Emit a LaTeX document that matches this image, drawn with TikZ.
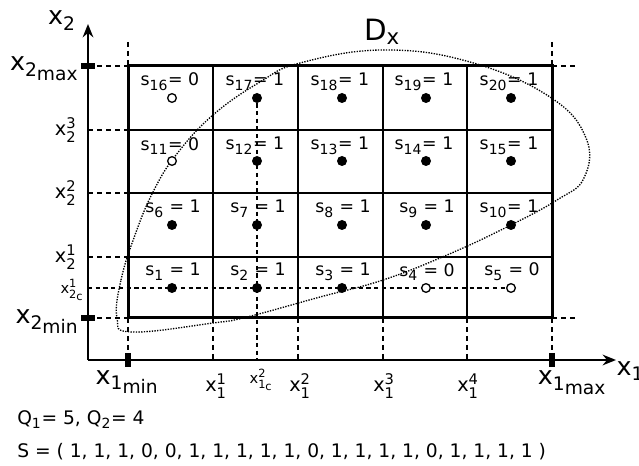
\documentclass[tikz,border=0pt]{standalone}
\usepackage{fontspec}
\setmainfont{DejaVu Sans}
\usepackage{amsmath}
\DeclareMathSizes{19}{19}{14}{10}
\DeclareMathSizes{13}{13}{10.5}{8}
\DeclareMathSizes{14.5}{14.5}{11}{8}
\DeclareMathSizes{11}{11}{8.5}{6}
\DeclareMathSizes{14}{14}{10.5}{8}
\DeclareMathSizes{22}{22}{16}{12}
\usetikzlibrary{arrows.meta}
\begin{document}
\begin{tikzpicture}[x=0.75pt,y=-0.75pt,
  big/.style={font=\fontsize{19}{22}\selectfont},
  mid/.style={font=\fontsize{14.5}{17}\selectfont},
  small/.style={font=\fontsize{11}{13}\selectfont},
  note/.style={font=\fontsize{14}{17}\selectfont,inner sep=0pt},
  cell/.style={font=\fontsize{13}{15}\selectfont,inner sep=0pt},
  on/.style={circle,fill,inner sep=0pt,minimum size=7.5pt},
  off/.style={circle,draw,fill=white,line width=1pt,inner sep=0pt,minimum size=6.5pt},
  guide/.style={line width=1.1pt,dash pattern=on 3.75pt off 3pt},
  cguide/.style={line width=1.1pt,dash pattern=on 3.2pt off 2.6pt},
  tickbar/.style={line width=4.5pt},
  axis/.style={line width=1.5pt,-{Stealth[length=10pt,width=8pt]}}]
\useasboundingbox (0,0) rectangle (639,466);
\draw[line width=1.1pt] (213,66) -- (213,318) (298,66) -- (298,318) (383,66) -- (383,318) (467,66) -- (467,318);
\draw[line width=1.1pt] (128,130) -- (552,130) (128,193) -- (552,193) (128,257) -- (552,257);
\draw[line width=2.25pt] (128,66) rectangle (552,318);
\draw[guide] (88,66) -- (128,66) (88,130) -- (128,130) (88,193) -- (128,193) (88,257) -- (128,257) (88,318) -- (128,318);
\draw[guide] (552,66) -- (578,66) (552,318) -- (578,318) (128,42) -- (128,66) (552,42) -- (552,66);
\draw[guide] (128,318) -- (128,360) (213,318) -- (213,360) (298,318) -- (298,360) (383,318) -- (383,360) (467,318) -- (467,360) (552,318) -- (552,360);
\coordinate (O) at (88,360);
\coordinate (ytip) at (88,24);
\coordinate (xtip) at (616,360);
\draw[axis] (O) -- (ytip);
\draw[axis] (O) -- (xtip);
\draw[tickbar] (81,66) -- (95,66) (81,318) -- (95,318) (128,353) -- (128,367) (552,353) -- (552,367);
\draw[densely dotted,line width=1pt] plot[smooth cycle,tension=0.7] coordinates {(117,318) (121,280) (135,235) (153,192) (176,155) (213,115) (260,82) (300,63) (383,50) (470,62) (550,97) (586,138) (584,178) (557,200) (507,227) (447,255) (383,280) (320,297) (247,317) (213,323) (132,332)};
\node[cell] (l16) at (170,82) {s$_{\text{16}}$= 0};
\node[cell] (l17) at (255,82) {s$_{\text{17}}$= 1};
\node[cell] (l18) at (340,82) {s$_{\text{18}}$= 1};
\node[cell] (l19) at (424,82) {s$_{\text{19}}$= 1};
\node[cell] (l20) at (509,82) {s$_{\text{20}}$= 1};
\node[cell] (l11) at (170,146) {s$_{\text{11}}$= 0};
\node[cell] (l12) at (255,146) {s$_{\text{12}}$= 1};
\node[cell] (l13) at (340,146) {s$_{\text{13}}$= 1};
\node[cell] (l14) at (424,146) {s$_{\text{14}}$= 1};
\node[cell] (l15) at (509,146) {s$_{\text{15}}$= 1};
\node[cell] (l6) at (173,209) {s$_{\text{6}}$ = 1};
\node[cell] (l7) at (258,209) {s$_{\text{7}}$ = 1};
\node[cell] (l8) at (343,209) {s$_{\text{8}}$ = 1};
\node[cell] (l9) at (427,209) {s$_{\text{9}}$ = 1};
\node[cell] (l10) at (509,209) {s$_{\text{10}}$= 1};
\node[cell] (l1) at (173,272) {s$_{\text{1}}$ = 1};
\node[cell] (l2) at (258,272) {s$_{\text{2}}$ = 1};
\node[cell] (l3) at (343,272) {s$_{\text{3}}$ = 1};
\node[cell] (l4) at (427,272) {s$_{\text{4}}$ = 0};
\node[cell] (l5) at (512,272) {s$_{\text{5}}$ = 0};
\node[off] (p16) at (172,98) {};
\node[on] (p17) at (257,98) {};
\node[on] (p18) at (342,98) {};
\node[on] (p19) at (426,98) {};
\node[on] (p20) at (511,98) {};
\node[off] (p11) at (172,161) {};
\node[on] (p12) at (257,161) {};
\node[on] (p13) at (342,161) {};
\node[on] (p14) at (426,161) {};
\node[on] (p15) at (511,161) {};
\node[on] (p6) at (172,225) {};
\node[on] (p7) at (257,225) {};
\node[on] (p8) at (342,225) {};
\node[on] (p9) at (426,225) {};
\node[on] (p10) at (511,225) {};
\node[on] (p1) at (172,288) {};
\node[on] (p2) at (257,288) {};
\node[on] (p3) at (342,288) {};
\node[off] (p4) at (426,288) {};
\node[off] (p5) at (511,288) {};
\coordinate (c1) at (257,360);
\coordinate (c2) at (88,288);
\draw[cguide] (p17) -- (c1);
\draw[cguide] (c2) -- (p4);
\draw[cguide] (p4) -- (p5);
\node[big] (x2) at (62,21) {x$_{\text{2}}$};
\node[big,anchor=east] (x2max) at (83,69) {x$_{\text{2\raisebox{-0.4ex}{max}}}$};
\node[mid,anchor=east] (x23) at (81,130) {x$_{\text{2}}^{\text{3}}$};
\node[mid,anchor=east] (x22) at (81,193) {x$_{\text{2}}^{\text{2}}$};
\node[mid,anchor=east] (x21) at (81,257) {x$_{\text{2}}^{\text{1}}$};
\node[small,anchor=east] (x2c) at (88,290) {x$_{\text{2\raisebox{-0.3ex}{c}}}^{\text{1}}$};
\node[big,anchor=east] (x2min) at (83,322) {x$_{\text{2\raisebox{-0.4ex}{min}}}$};
\node[big] (x1min) at (127,382) {x$_{\text{1\raisebox{-0.4ex}{min}}}$};
\node[mid] (x11) at (216,386) {x$_{\text{1}}^{\text{1}}$};
\node[small] (x1c) at (261,380) {x$_{\text{1\raisebox{-0.3ex}{c}}}^{\text{2}}$};
\node[mid] (x12) at (300,386) {x$_{\text{1}}^{\text{2}}$};
\node[mid] (x13) at (384,386) {x$_{\text{1}}^{\text{3}}$};
\node[mid] (x14) at (468,386) {x$_{\text{1}}^{\text{4}}$};
\node[big] (x1max) at (572,383) {x$_{\text{1\raisebox{-0.4ex}{max}}}$};
\node[big,anchor=west] (x1) at (612,371) {x$_{\text{1}}$};
\node[font=\fontsize{22}{26}\selectfont] (dx) at (382,32) {D$_{\text{x}}$};
\node[note,anchor=base west] (q) at (17,425) {Q$_{\text{1}}$= 5, Q$_{\text{2}}$= 4};
\node[note,anchor=base west] (s) at (17,458) {S = ( 1, 1, 1, 0, 0, 1, 1, 1, 1, 1, 0, 1, 1, 1, 1, 0, 1, 1, 1, 1 )};
\end{tikzpicture}
\end{document}
